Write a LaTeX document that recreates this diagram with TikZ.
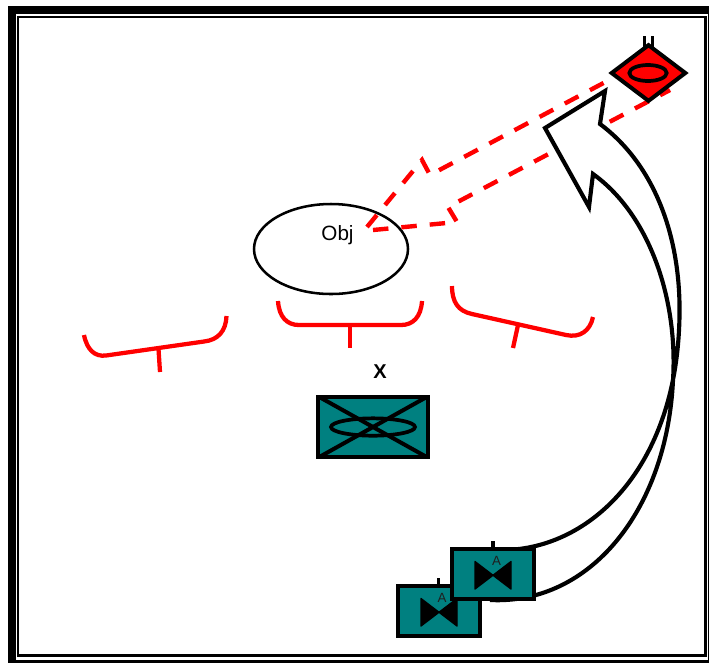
\documentclass[tikz,border=0pt]{standalone}
\usepackage{fontspec}
\setmainfont{Liberation Sans}
\usetikzlibrary{shapes.geometric}
\definecolor{tealbox}{HTML}{008080}
\definecolor{redline}{HTML}{FF0000}
\tikzset{
  outerframe/.style={draw=black,line width=6pt},
  innerframe/.style={draw=black,line width=1.6pt},
  obj/.style={draw=black,ellipse,line width=1.9pt,inner sep=0pt,minimum width=115.5pt,minimum height=67.5pt},
  redbrace/.style={draw=redline,line width=3.2pt,line cap=butt},
  reddash/.style={draw=redline,line width=3.3pt,dash pattern=on 11.6pt off 9.75pt,line join=miter},
  bigarrow/.style={draw=black,fill=white,line width=3.1pt,line join=miter},
  unitbox/.style={draw=black,fill=tealbox,line width=3pt,inner sep=0pt,rectangle},
  stem/.style={draw=black,line width=2.8pt},
  tie/.style={fill=black,draw=black,line width=1pt,line join=round},
  ring/.style={draw=black,ellipse,line width=2.8pt,inner sep=0pt},
  lab/.style={inner sep=0pt,font=\fontsize{15.5}{16}\selectfont},
  xlab/.style={inner sep=0pt,font=\fontsize{15}{16}\selectfont\bfseries},
  alab/.style={inner sep=0pt,text=black!88,font=\fontsize{10}{10}\selectfont},
}
\begin{document}
\begin{tikzpicture}[x=0.75pt,y=-0.75pt]
\useasboundingbox (0,0) rectangle (709,662);
% frames
\draw[outerframe] (11.5,10) rectangle (712,664);
\draw[innerframe] (18,17) rectangle (705.5,655.5);
% object
\node[obj] (objA) at (331,249) {};
\node[lab] (objL) at (337.5,235) {Obj};
% red dashed lanes
\coordinate (lanea) at (367,227);
\coordinate (laneb) at (422,160);
\coordinate (lanec) at (430,175);
\coordinate (laned) at (628,70);
\coordinate (lanee) at (373,230);
\coordinate (lanef) at (457,222);
\coordinate (laneg) at (448,207);
\coordinate (laneh) at (670,90);
\draw[reddash] (lanea) -- (laneb) -- (lanec) -- (laned);
\draw[reddash] (lanee) -- (lanef) -- (laneg) -- (laneh);
% brackets
\coordinate (b1t) at (158.5,349);
\coordinate (b1e) at (160,372);
\coordinate (b2t) at (350,325);
\coordinate (b2e) at (350,348);
\coordinate (b3t) at (518,325);
\coordinate (b3e) at (513,348);
\draw[redbrace] (84,335) .. controls (87,350) and (95,357) .. (106,355.5) -- (204,341.5) .. controls (218,340) and (226,331) .. (226.5,316);
\draw[redbrace] (b1t) -- (b1e);
\draw[redbrace] (278,301) .. controls (279,317) and (287,325) .. (299,325) -- (401,325) .. controls (413,325) and (421,317) .. (422,301);
\draw[redbrace] (b2t) -- (b2e);
\draw[redbrace] (452,286) .. controls (452,302) and (458,311) .. (472,314) -- (566,335) .. controls (580,338) and (590,331) .. (593,317);
\draw[redbrace] (b3t) -- (b3e);
% curved arrow
\draw[bigarrow] (505,550) .. controls (590,548) and (672,470) .. (679,330)
  .. controls (684,240) and (655,165) .. (600,124)
  -- (605,91) -- (545,128) -- (589,207) -- (593,174)
  .. controls (650,215) and (678,300) .. (673,380)
  .. controls (667,510) and (590,605) .. (490,600);
% diamond
\coordinate (d1a) at (644.5,36);
\coordinate (d1b) at (644.5,50);
\coordinate (d2a) at (652.5,36);
\coordinate (d2b) at (652.5,50);
\draw[stem] (d1a) -- (d1b);
\draw[stem] (d2a) -- (d2b);
\node[diamond,draw=black,fill=redline,line width=3pt,inner sep=0pt,minimum width=56.5pt,minimum height=43pt,aspect=1.28] (diam) at (648.5,73) {};
\node[ring,minimum width=28pt,minimum height=12pt] (dring) at (648,73) {};
% large box
\node[xlab] (xl) at (380,371.5) {X};
\node[unitbox,minimum width=82pt,minimum height=44.5pt] (big) at (373,427) {};
\draw[black,line width=3pt,shorten >=2.4pt,shorten <=2.4pt] (big.north west) -- (big.south east);
\draw[black,line width=3pt,shorten >=2.4pt,shorten <=2.4pt] (big.south west) -- (big.north east);
\node[ring,minimum width=63pt,minimum height=13pt] (bring) at (373,427) {};
% back small unit
\coordinate (s1a) at (438.5,578);
\coordinate (s1b) at (438.5,587);
\draw[stem] (s1a) -- (s1b);
\node[unitbox,minimum width=61pt,minimum height=37pt] (ua) at (439,611) {};
\draw[tie] (421,598.5) -- (421,626) -- (457,598.5) -- (457,626) -- cycle;
\node[alab] (ala) at (442,598) {A};
% front small unit
\coordinate (s2a) at (493,541);
\coordinate (s2b) at (493,550);
\draw[stem] (s2a) -- (s2b);
\node[unitbox,minimum width=61pt,minimum height=37pt] (ub) at (493,574) {};
\draw[tie] (475,561.5) -- (475,589) -- (511,561.5) -- (511,589) -- cycle;
\node[alab] (alb) at (496.5,561) {A};
\end{tikzpicture}
\end{document}
